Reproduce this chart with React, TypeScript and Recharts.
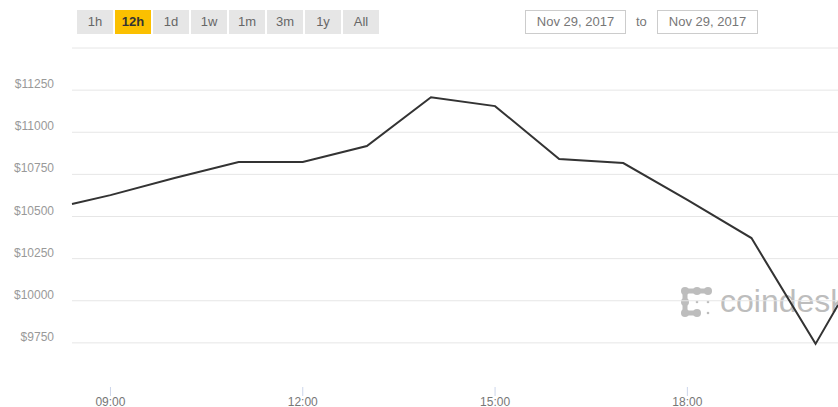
import React from "react";
import { Line, LineChart, ReferenceLine, XAxis, YAxis } from "recharts";

// hours of the day (decimal) and BTC price in USD
const hours = [8.4, 9, 10, 11, 12, 13, 14, 15, 16, 17, 18, 19, 20, 20.35];
const prices = [10574, 10627, 10728, 10823, 10823, 10918, 11208, 11155, 10841, 10817, 10598, 10372, 9744, 9975];

const xTicks = [9, 12, 15, 18];
const yTicks = [9750, 10000, 10250, 10500, 10750, 11000, 11250, 11500];
const rangeButtons = ["1h", "12h", "1d", "1w", "1m", "3m", "1y", "All"];
const selectedRange = "12h";
const fromDate = "Nov 29, 2017";
const toDate = "Nov 29, 2017";

const data = hours.map((h, i) => ({ h, price: prices[i] }));

const font = "Arial, 'Liberation Sans', sans-serif";

function YTick(props: any) {
  const { y, payload } = props;
  if (payload.value === 11500) return null;
  return (
    <text x={54} y={y - 2} textAnchor="end" fontSize={12} fill="#999" fontFamily={font}>
      ${payload.value}
    </text>
  );
}

// tick label plus the short pale tick mark above it
function XTick(props: any) {
  const { x, y, payload } = props;
  const hh = String(payload.value).padStart(2, "0");
  return (
    <g>
      <line x1={x} x2={x} y1={y + 2} y2={y + 11} stroke="#ccd6eb" />
      <text x={x} y={y + 21} textAnchor="middle" fontSize={12} fill="#777" fontFamily={font}>
        {hh}:00
      </text>
    </g>
  );
}

function Logo() {
  const c = "#bdbdbd";
  return (
    <svg width={40} height={40} style={{ position: "absolute", left: 678, top: 284 }}>
      <path d="M7 7 H30 M7 7 V29 H19" stroke={c} strokeWidth={5} fill="none" />
      <circle cx={7} cy={7} r={4} fill={c} />
      <circle cx={19} cy={7} r={4} fill={c} />
      <circle cx={30} cy={7} r={4} fill={c} />
      <circle cx={7} cy={18} r={4} fill={c} />
      <circle cx={7} cy={29} r={4} fill={c} />
      <circle cx={19} cy={29} r={4} fill={c} />
      <circle cx={19} cy={18} r={1.3} fill={c} />
      <circle cx={30} cy={18} r={1.3} fill={c} />
      <circle cx={30} cy={29} r={1.3} fill={c} />
    </svg>
  );
}

export default function App() {
  return (
    <div style={{ position: "absolute", left: 0, top: 0, width: 838, height: 407, overflow: "hidden", background: "#fff", fontFamily: font }}>
      {rangeButtons.map((b, i) => (
        <div
          key={b}
          style={{
            position: "absolute",
            left: 77 + i * 38,
            top: 10,
            width: 36,
            height: 24,
            lineHeight: "24px",
            textAlign: "center",
            fontSize: 13,
            background: b === selectedRange ? "#fbc000" : "#e6e6e6",
            color: b === selectedRange ? "#333" : "#666",
            fontWeight: b === selectedRange ? "bold" : "normal",
          }}
        >
          {b}
        </div>
      ))}
      <div style={{ position: "absolute", left: 525, top: 10, width: 99, height: 22, border: "1px solid #ccc", lineHeight: "22px", textAlign: "center", fontSize: 13, color: "#777" }}>
        {fromDate}
      </div>
      <div style={{ position: "absolute", left: 636, top: 10, lineHeight: "24px", fontSize: 13, color: "#777" }}>to</div>
      <div style={{ position: "absolute", left: 657, top: 10, width: 99, height: 22, border: "1px solid #ccc", lineHeight: "22px", textAlign: "center", fontSize: 13, color: "#777" }}>
        {toDate}
      </div>
      <Logo />
      <div style={{ position: "absolute", left: 720, top: 281, fontSize: 32, color: "#bdbdbd", lineHeight: "40px" }}>coindesk</div>
      <div style={{ position: "absolute", left: 0, top: 0 }}>
        <LineChart width={838} height={407} data={data} margin={{ top: 48, right: 0, left: 0, bottom: 0 }}>
          <XAxis
            dataKey="h"
            type="number"
            domain={[8.4, 20.35]}
            ticks={xTicks}
            height={22}
            axisLine={false}
            tickLine={false}
            tickSize={0}
            tickMargin={0}
            tick={<XTick />}
          />
          <YAxis
            type="number"
            domain={[9500, 11500]}
            ticks={yTicks}
            width={72}
            axisLine={false}
            tickLine={false}
            tick={<YTick />}
          />
          {yTicks.map((v) => (
            <ReferenceLine key={v} y={v} stroke="#e6e6e6" strokeWidth={1} />
          ))}
          <Line type="linear" dataKey="price" stroke="#333" strokeWidth={2} dot={false} isAnimationActive={false} />
        </LineChart>
      </div>
      {/* the reference has no baseline under the plot */}
      <div style={{ position: "absolute", left: 60, top: 382, width: 778, height: 4, background: "#fff" }} />
    </div>
  );
}
